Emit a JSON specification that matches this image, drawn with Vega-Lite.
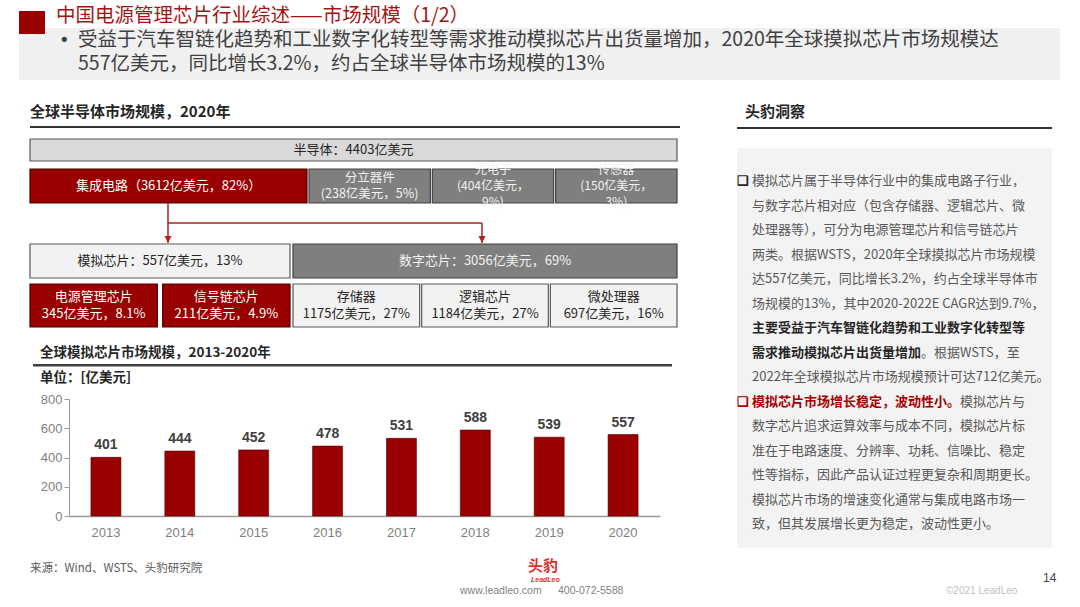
{
  "$schema": "https://vega.github.io/schema/vega-lite/v6.json",
  "width": 1080,
  "height": 607,
  "autosize": "none",
  "padding": 0,
  "background": "white",
  "config": {"font": "Noto Sans CJK SC", "view": {"stroke": null}},
  "resolve": {"scale": {"x": "independent", "y": "independent", "color": "independent"}},
  "layer": [
    {
      "data": {"values": [{"k": "summary"}]},
      "mark": {"type": "rect", "fill": "#f0f0f0"},
      "encoding": {
        "x": {"field": "k", "type": "nominal", "scale": {"type": "band", "range": [19, 1060], "paddingInner": 0, "paddingOuter": 0}, "axis": null},
        "y": {"field": "k", "type": "nominal", "scale": {"type": "band", "range": [28, 80], "paddingInner": 0, "paddingOuter": 0}, "axis": null}
      }
    },
    {
      "data": {"values": [{"k": "marker"}]},
      "mark": {"type": "rect", "fill": "#990000"},
      "encoding": {
        "x": {"field": "k", "type": "nominal", "scale": {"type": "band", "range": [19, 45], "paddingInner": 0, "paddingOuter": 0}, "axis": null},
        "y": {"field": "k", "type": "nominal", "scale": {"type": "band", "range": [11, 34], "paddingInner": 0, "paddingOuter": 0}, "axis": null}
      }
    },
    {
      "data": {"values": [{"t": "中国电源管理芯片行业综述——市场规模（1/2）"}]},
      "mark": {"type": "text", "align": "left", "baseline": "middle", "fontSize": 19.5, "color": "#a31515"},
      "encoding": {
        "x": {"field": "t", "type": "nominal", "scale": {"type": "point", "range": [56, 56]}, "axis": null},
        "y": {"field": "t", "type": "nominal", "scale": {"type": "point", "range": [16, 16]}, "axis": null},
        "text": {"field": "t"}
      }
    },
    {
      "data": {"values": [{"t": "•"}]},
      "mark": {"type": "text", "align": "left", "baseline": "middle", "fontSize": 18, "color": "#404040", "font": "DejaVu Sans"},
      "encoding": {
        "x": {"field": "t", "type": "nominal", "scale": {"type": "point", "range": [59, 59]}, "axis": null},
        "y": {"field": "t", "type": "nominal", "scale": {"type": "point", "range": [41, 41]}, "axis": null},
        "text": {"field": "t"}
      }
    },
    {
      "data": {"values": [
        {"line": 1, "t": "受益于汽车智链化趋势和工业数字化转型等需求推动模拟芯片出货量增加，2020年全球摸拟芯片市场规模达"},
        {"line": 2, "t": "557亿美元，同比增长3.2%，约占全球半导体市场规模的13%"}
      ]},
      "mark": {"type": "text", "align": "left", "baseline": "middle", "fontSize": 19.5, "color": "#404040"},
      "encoding": {
        "x": {"field": "t", "type": "nominal", "scale": {"type": "point", "range": [78, 78]}, "axis": null},
        "y": {"field": "line", "type": "quantitative", "scale": {"domain": [1, 2], "range": [40, 64], "nice": false, "zero": false}, "axis": null},
        "text": {"field": "t"}
      }
    },
    {
      "data": {"values": [
        {"panel": "left", "t": "全球半导体市场规模，2020年"},
        {"panel": "right", "t": "头豹洞察"}
      ]},
      "mark": {"type": "text", "align": "left", "baseline": "middle", "fontSize": 15, "fontWeight": "bold", "color": "#262626"},
      "encoding": {
        "x": {"field": "panel", "type": "nominal", "scale": {"type": "point", "domain": ["left", "right"], "range": [30, 745], "padding": 0}, "axis": null},
        "y": {"field": "t", "type": "nominal", "scale": {"type": "point", "range": [112, 112]}, "axis": null},
        "text": {"field": "t"}
      }
    },
    {
      "data": {"values": [{"k": "left-rule"}]},
      "mark": {"type": "rect", "fill": "#333333"},
      "encoding": {
        "x": {"field": "k", "type": "nominal", "scale": {"type": "band", "range": [30, 680], "paddingInner": 0, "paddingOuter": 0}, "axis": null},
        "y": {"field": "k", "type": "nominal", "scale": {"type": "band", "range": [126, 128], "paddingInner": 0, "paddingOuter": 0}, "axis": null}
      }
    },
    {
      "data": {"values": [{"k": "right-rule"}]},
      "mark": {"type": "rect", "fill": "#333333"},
      "encoding": {
        "x": {"field": "k", "type": "nominal", "scale": {"type": "band", "range": [737, 1052], "paddingInner": 0, "paddingOuter": 0}, "axis": null},
        "y": {"field": "k", "type": "nominal", "scale": {"type": "band", "range": [127, 129], "paddingInner": 0, "paddingOuter": 0}, "axis": null}
      }
    },
    {
      "data": {"values": [{"k": "insight"}]},
      "mark": {"type": "rect", "fill": "#f3f3f3"},
      "encoding": {
        "x": {"field": "k", "type": "nominal", "scale": {"type": "band", "range": [737, 1052], "paddingInner": 0, "paddingOuter": 0}, "axis": null},
        "y": {"field": "k", "type": "nominal", "scale": {"type": "band", "range": [148, 548], "paddingInner": 0, "paddingOuter": 0}, "axis": null}
      }
    },
    {
      "data": {"values": [
        {"line": 1, "col": -1.15, "style": "bold", "t": "❑"},
        {"line": 1, "col": 0, "style": "normal", "t": "模拟芯片属于半导体行业中的集成电路子行业，"},
        {"line": 2, "col": 0, "style": "normal", "t": "与数字芯片相对应（包含存储器、逻辑芯片、微"},
        {"line": 3, "col": 0, "style": "normal", "t": "处理器等），可分为电源管理芯片和信号链芯片"},
        {"line": 4, "col": 0, "style": "normal", "t": "两类。根据WSTS，2020年全球摸拟芯片市场规模"},
        {"line": 5, "col": 0, "style": "normal", "t": "达557亿美元，同比增长3.2%，约占全球半导体市"},
        {"line": 6, "col": 0, "style": "normal", "t": "场规模的13%，其中2020-2022E CAGR达到9.7%，"},
        {"line": 7, "col": 0, "style": "bold", "t": "主要受益于汽车智链化趋势和工业数字化转型等"},
        {"line": 8, "col": 0, "style": "bold", "t": "需求推动模拟芯片出货量增加"},
        {"line": 8, "col": 13, "style": "normal", "t": "。根据WSTS，至"},
        {"line": 9, "col": 0, "style": "normal", "t": "2022年全球模拟芯片市场规模预计可达712亿美元。"},
        {"line": 10, "col": -1.15, "style": "red", "t": "❑"},
        {"line": 10, "col": 0, "style": "red", "t": "模拟芯片市场增长稳定，波动性小。"},
        {"line": 10, "col": 16, "style": "normal", "t": "模拟芯片与"},
        {"line": 11, "col": 0, "style": "normal", "t": "数字芯片追求运算效率与成本不同，模拟芯片标"},
        {"line": 12, "col": 0, "style": "normal", "t": "准在于电路速度、分辨率、功耗、信噪比、稳定"},
        {"line": 13, "col": 0, "style": "normal", "t": "性等指标，因此产品认证过程更复杂和周期更长。"},
        {"line": 14, "col": 0, "style": "normal", "t": "模拟芯片市场的增速变化通常与集成电路市场一"},
        {"line": 15, "col": 0, "style": "normal", "t": "致，但其发展增长更为稳定，波动性更小。"}
      ]},
      "encoding": {
        "x": {"field": "col", "type": "quantitative", "scale": {"domain": [0, 1], "range": [752, 765], "nice": false, "zero": false}, "axis": null},
        "y": {"field": "line", "type": "quantitative", "scale": {"domain": [1, 15], "range": [181, 524], "nice": false, "zero": false}, "axis": null},
        "color": {"field": "style", "type": "nominal", "scale": {"domain": ["normal", "bold", "red"], "range": ["#595959", "#262626", "#a50000"]}, "legend": null},
        "text": {"field": "t"}
      },
      "layer": [
        {"transform": [{"filter": "datum.style === 'normal'"}], "mark": {"type": "text", "align": "left", "baseline": "middle", "fontSize": 13}},
        {"transform": [{"filter": "datum.style !== 'normal'"}], "mark": {"type": "text", "align": "left", "baseline": "middle", "fontSize": 13, "fontWeight": "bold"}}
      ]
    },
    {
      "data": {"values": [{"level": 1, "t": "半导体：4403亿美元"}]},
      "encoding": {
        "x": {"field": "t", "type": "nominal", "sort": null, "scale": {"type": "band", "range": [30, 677], "paddingInner": 0, "paddingOuter": 0}, "axis": null},
        "y": {"field": "level", "type": "nominal", "scale": {"type": "band", "range": [139, 161], "paddingInner": 0, "paddingOuter": 0}, "axis": null}
      },
      "layer": [
        {"mark": {"type": "rect", "fill": "#d9d9d9", "stroke": "#595959", "strokeWidth": 1.2}},
        {"mark": {"type": "text", "baseline": "middle", "fontSize": 13, "color": "#262626"}, "encoding": {"text": {"field": "t"}}}
      ]
    },
    {
      "data": {"values": [{"level": 2, "t": "集成电路（3612亿美元，82%）"}]},
      "encoding": {
        "x": {"field": "t", "type": "nominal", "sort": null, "scale": {"type": "band", "range": [30, 307], "paddingInner": 0, "paddingOuter": 0}, "axis": null},
        "y": {"field": "level", "type": "nominal", "scale": {"type": "band", "range": [169, 203], "paddingInner": 0, "paddingOuter": 0}, "axis": null}
      },
      "layer": [
        {"mark": {"type": "rect", "fill": "#990000", "stroke": "#4d0000", "strokeWidth": 1.2}},
        {"mark": {"type": "text", "baseline": "middle", "fontSize": 13, "color": "#ffffff"}, "encoding": {"text": {"field": "t"}}}
      ]
    },
    {
      "data": {"values": [
        {"level": 2, "t": "分立器件\n(238亿美元，5%)"},
        {"level": 2, "t": "光电子\n(404亿美元，\n9%)"},
        {"level": 2, "t": "传感器\n(150亿美元，\n3%)"}
      ]},
      "encoding": {
        "x": {"field": "t", "type": "nominal", "sort": null, "scale": {"type": "band", "range": [309, 677], "paddingInner": 0.016, "paddingOuter": 0}, "axis": null},
        "y": {"field": "level", "type": "nominal", "scale": {"type": "band", "range": [169, 203], "paddingInner": 0, "paddingOuter": 0}, "axis": null},
        "text": {"field": "t"}
      },
      "layer": [
        {"mark": {"type": "rect", "fill": "#7f7f7f", "stroke": "#404040", "strokeWidth": 1.2}},
        {"transform": [{"filter": "length(split(datum.t, '\\n')) === 2"}], "mark": {"type": "text", "baseline": "middle", "dy": -8, "fontSize": 12.5, "lineBreak": "\n", "lineHeight": 16, "color": "#f2f2f2"}},
        {"transform": [{"filter": "length(split(datum.t, '\\n')) === 3"}], "mark": {"type": "text", "baseline": "middle", "dy": -16, "fontSize": 12, "lineBreak": "\n", "lineHeight": 16, "color": "#f2f2f2"}}
      ]
    },
    {
      "data": {"values": [
        {"from": "模拟芯片", "to": "模拟芯片", "start": "top", "end": "tip"},
        {"from": "数字芯片", "to": "数字芯片", "start": "bus", "end": "tip"},
        {"from": "模拟芯片", "to": "数字芯片", "start": "bus", "end": "bus"}
      ]},
      "layer": [
        {
          "mark": {"type": "rule", "color": "#b22222", "strokeWidth": 1.5},
          "encoding": {
            "x": {"field": "from", "type": "nominal", "scale": {"type": "point", "domain": ["模拟芯片", "数字芯片"], "range": [168, 482], "padding": 0}, "axis": null},
            "x2": {"field": "to"},
            "y": {"field": "start", "type": "nominal", "scale": {"type": "point", "domain": ["top", "bus", "tip"], "range": [203, 243], "padding": 0}, "axis": null},
            "y2": {"field": "end"}
          }
        },
        {
          "transform": [{"filter": "datum.from === datum.to"}],
          "mark": {"type": "point", "shape": "M-0.7,-1.4L0.7,-1.4L0,0Z", "filled": true, "color": "#b22222", "opacity": 1, "size": 100},
          "encoding": {
            "x": {"field": "from", "type": "nominal", "axis": null},
            "y": {"field": "end", "type": "nominal", "axis": null}
          }
        }
      ]
    },
    {
      "data": {"values": [{"level": 3, "t": "模拟芯片：557亿美元，13%"}]},
      "encoding": {
        "x": {"field": "t", "type": "nominal", "sort": null, "scale": {"type": "band", "range": [30, 290], "paddingInner": 0, "paddingOuter": 0}, "axis": null},
        "y": {"field": "level", "type": "nominal", "scale": {"type": "band", "range": [244, 278], "paddingInner": 0, "paddingOuter": 0}, "axis": null}
      },
      "layer": [
        {"mark": {"type": "rect", "fill": "#f2f2f2", "stroke": "#595959", "strokeWidth": 1.2}},
        {"mark": {"type": "text", "baseline": "middle", "fontSize": 13, "color": "#262626"}, "encoding": {"text": {"field": "t"}}}
      ]
    },
    {
      "data": {"values": [{"level": 3, "t": "数字芯片：3056亿美元，69%"}]},
      "encoding": {
        "x": {"field": "t", "type": "nominal", "sort": null, "scale": {"type": "band", "range": [293, 677], "paddingInner": 0, "paddingOuter": 0}, "axis": null},
        "y": {"field": "level", "type": "nominal", "scale": {"type": "band", "range": [244, 278], "paddingInner": 0, "paddingOuter": 0}, "axis": null}
      },
      "layer": [
        {"mark": {"type": "rect", "fill": "#7f7f7f", "stroke": "#404040", "strokeWidth": 1.2}},
        {"mark": {"type": "text", "baseline": "middle", "fontSize": 13, "color": "#f2f2f2"}, "encoding": {"text": {"field": "t"}}}
      ]
    },
    {
      "data": {"values": [
        {"level": 4, "t": "电源管理芯片\n345亿美元，8.1%"},
        {"level": 4, "t": "信号链芯片\n211亿美元，4.9%"}
      ]},
      "encoding": {
        "x": {"field": "t", "type": "nominal", "sort": null, "scale": {"type": "band", "range": [30, 290], "paddingInner": 0.04, "paddingOuter": 0}, "axis": null},
        "y": {"field": "level", "type": "nominal", "scale": {"type": "band", "range": [284, 327], "paddingInner": 0, "paddingOuter": 0}, "axis": null}
      },
      "layer": [
        {"mark": {"type": "rect", "fill": "#990000", "stroke": "#4d0000", "strokeWidth": 1.2}},
        {"mark": {"type": "text", "baseline": "middle", "dy": -8.5, "fontSize": 13, "lineBreak": "\n", "lineHeight": 17, "color": "#ffffff"}, "encoding": {"text": {"field": "t"}}}
      ]
    },
    {
      "data": {"values": [
        {"level": 4, "t": "存储器\n1175亿美元，27%"},
        {"level": 4, "t": "逻辑芯片\n1184亿美元，27%"},
        {"level": 4, "t": "微处理器\n697亿美元，16%"}
      ]},
      "encoding": {
        "x": {"field": "t", "type": "nominal", "sort": null, "scale": {"type": "band", "range": [293, 677], "paddingInner": 0.016, "paddingOuter": 0}, "axis": null},
        "y": {"field": "level", "type": "nominal", "scale": {"type": "band", "range": [284, 327], "paddingInner": 0, "paddingOuter": 0}, "axis": null}
      },
      "layer": [
        {"mark": {"type": "rect", "fill": "#f2f2f2", "stroke": "#595959", "strokeWidth": 1.2}},
        {"mark": {"type": "text", "baseline": "middle", "dy": -8.5, "fontSize": 13, "lineBreak": "\n", "lineHeight": 17, "color": "#262626"}, "encoding": {"text": {"field": "t"}}}
      ]
    },
    {
      "data": {"values": [
        {"role": "title", "t": "全球模拟芯片市场规模，2013-2020年"},
        {"role": "unit", "t": "单位：[亿美元]"}
      ]},
      "mark": {"type": "text", "align": "left", "baseline": "middle", "fontSize": 13.5, "fontWeight": "bold", "color": "#262626"},
      "encoding": {
        "x": {"field": "t", "type": "nominal", "scale": {"type": "point", "range": [40, 40]}, "axis": null},
        "y": {"field": "role", "type": "nominal", "scale": {"type": "point", "domain": ["title", "unit"], "range": [353, 378], "padding": 0}, "axis": null},
        "text": {"field": "t"}
      }
    },
    {
      "data": {"values": [{"k": "chart-rule"}]},
      "mark": {"type": "rect", "fill": "#404040"},
      "encoding": {
        "x": {"field": "k", "type": "nominal", "scale": {"type": "band", "range": [33, 672], "paddingInner": 0, "paddingOuter": 0}, "axis": null},
        "y": {"field": "k", "type": "nominal", "scale": {"type": "band", "range": [364, 366.5], "paddingInner": 0, "paddingOuter": 0}, "axis": null}
      }
    },
    {
      "data": {"values": [
        {"year": "2013", "value": 401},
        {"year": "2014", "value": 444},
        {"year": "2015", "value": 452},
        {"year": "2016", "value": 478},
        {"year": "2017", "value": 531},
        {"year": "2018", "value": 588},
        {"year": "2019", "value": 539},
        {"year": "2020", "value": 557}
      ]},
      "encoding": {
        "x": {
          "field": "year", "type": "nominal", "sort": null,
          "scale": {"type": "band", "range": [69, 660], "paddingInner": 0.594, "paddingOuter": 0.297},
          "axis": {"orient": "bottom", "offset": -91, "title": null, "ticks": false, "grid": false, "labelAngle": 0, "domainColor": "#999999", "domainWidth": 1.5, "labelColor": "#7f7f7f", "labelFontSize": 13, "labelFont": "Liberation Sans", "labelPadding": 10}
        },
        "y": {
          "field": "value", "type": "quantitative",
          "scale": {"domain": [0, 800], "range": [516, 399], "nice": false},
          "axis": {"orient": "left", "offset": -69, "title": null, "grid": false, "values": [0, 200, 400, 600, 800], "tickSize": 5, "tickColor": "#999999", "domainColor": "#999999", "labelColor": "#7f7f7f", "labelFontSize": 13, "labelFont": "Liberation Sans", "labelPadding": 2}
        }
      },
      "layer": [
        {"mark": {"type": "bar", "color": "#990000", "stroke": "#5a0000", "strokeWidth": 0.6}},
        {"mark": {"type": "text", "baseline": "alphabetic", "dy": -8, "fontSize": 14, "fontWeight": "bold", "font": "Liberation Sans", "color": "#404040"}, "encoding": {"text": {"field": "value", "type": "quantitative"}}}
      ]
    },
    {
      "data": {"values": [{"t": "来源：Wind、WSTS、头豹研究院"}]},
      "mark": {"type": "text", "align": "left", "baseline": "middle", "fontSize": 11.5, "color": "#595959"},
      "encoding": {
        "x": {"field": "t", "type": "nominal", "scale": {"type": "point", "range": [30, 30]}, "axis": null},
        "y": {"field": "t", "type": "nominal", "scale": {"type": "point", "range": [569, 569]}, "axis": null},
        "text": {"field": "t"}
      }
    },
    {
      "data": {"values": [{"t": "头豹"}]},
      "mark": {"type": "text", "align": "left", "baseline": "middle", "fontSize": 15, "fontWeight": "bold", "color": "#d9302a"},
      "encoding": {
        "x": {"field": "t", "type": "nominal", "scale": {"type": "point", "range": [528, 528]}, "axis": null},
        "y": {"field": "t", "type": "nominal", "scale": {"type": "point", "range": [566, 566]}, "axis": null},
        "text": {"field": "t"}
      }
    },
    {
      "data": {"values": [{"t": "LeadLeo"}]},
      "mark": {"type": "text", "align": "left", "baseline": "middle", "fontSize": 7, "fontWeight": "bold", "fontStyle": "italic", "font": "Liberation Sans", "color": "#d9302a"},
      "encoding": {
        "x": {"field": "t", "type": "nominal", "scale": {"type": "point", "range": [531, 531]}, "axis": null},
        "y": {"field": "t", "type": "nominal", "scale": {"type": "point", "range": [580, 580]}, "axis": null},
        "text": {"field": "t"}
      }
    },
    {
      "data": {"values": [{"t": "www.leadleo.com"}]},
      "mark": {"type": "text", "align": "left", "baseline": "middle", "fontSize": 10.5, "font": "Liberation Sans", "color": "#7f7f7f"},
      "encoding": {
        "x": {"field": "t", "type": "nominal", "scale": {"type": "point", "range": [460, 460]}, "axis": null},
        "y": {"field": "t", "type": "nominal", "scale": {"type": "point", "range": [591, 591]}, "axis": null},
        "text": {"field": "t"}
      }
    },
    {
      "data": {"values": [{"t": "400-072-5588"}]},
      "mark": {"type": "text", "align": "left", "baseline": "middle", "fontSize": 10.5, "font": "Liberation Sans", "color": "#7f7f7f"},
      "encoding": {
        "x": {"field": "t", "type": "nominal", "scale": {"type": "point", "range": [558, 558]}, "axis": null},
        "y": {"field": "t", "type": "nominal", "scale": {"type": "point", "range": [591, 591]}, "axis": null},
        "text": {"field": "t"}
      }
    },
    {
      "data": {"values": [{"t": "©2021 LeadLeo"}]},
      "mark": {"type": "text", "align": "left", "baseline": "middle", "fontSize": 10, "font": "Liberation Sans", "color": "#bfbfbf"},
      "encoding": {
        "x": {"field": "t", "type": "nominal", "scale": {"type": "point", "range": [946, 946]}, "axis": null},
        "y": {"field": "t", "type": "nominal", "scale": {"type": "point", "range": [591, 591]}, "axis": null},
        "text": {"field": "t"}
      }
    },
    {
      "data": {"values": [{"t": "14"}]},
      "mark": {"type": "text", "align": "left", "baseline": "middle", "fontSize": 12, "font": "Liberation Sans", "color": "#404040"},
      "encoding": {
        "x": {"field": "t", "type": "nominal", "scale": {"type": "point", "range": [1043, 1043]}, "axis": null},
        "y": {"field": "t", "type": "nominal", "scale": {"type": "point", "range": [578, 578]}, "axis": null},
        "text": {"field": "t"}
      }
    }
  ]
}
